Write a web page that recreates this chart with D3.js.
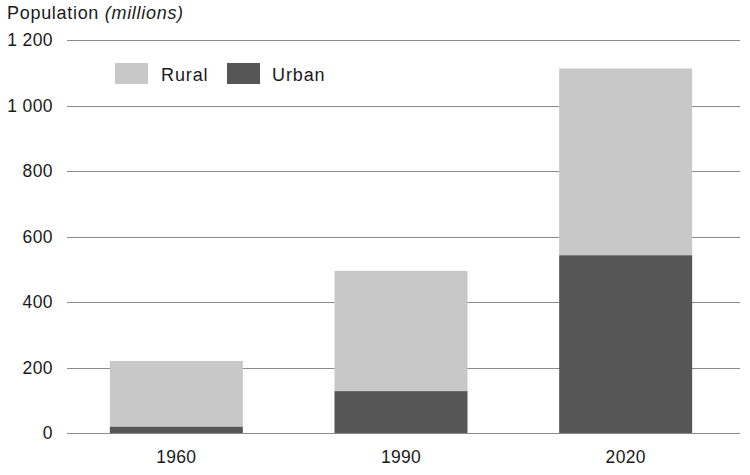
<!DOCTYPE html>
<html><head><meta charset="utf-8">
<script src="https://cdn.jsdelivr.net/npm/d3@7"></script>
<style>body{margin:0;background:#fff}svg{display:block}text{font-family:"Liberation Sans",Arial,sans-serif;fill:#1a1a1a}</style>
</head><body><svg id="c" width="750" height="475"></svg>
<script>
const years = ["1960", "1990", "2020"];
const urban = [20, 128, 543];
const rural = [200, 367, 570];
const yTicks = [0, 200, 400, 600, 800, 1000, 1200];
const seriesNames = ["Rural", "Urban"];

const svg = d3.select("#c");
const x = d3.scaleBand().domain(years).range([64, 738]).paddingInner(0.408).paddingOuter(0.204);
const y = d3.scaleLinear().domain([0, 1200]).range([433, 40]);
const colors = {Rural: "#c8c8c8", Urban: "#565656"};

// gridlines
svg.append("g").selectAll("line").data(yTicks).join("line")
  .attr("x1", 67).attr("x2", 740)
  .attr("y1", d => Math.round(y(d)) + 0.5).attr("y2", d => Math.round(y(d)) + 0.5)
  .attr("stroke", "#8a8a8a").attr("stroke-width", 1);

// y labels
svg.append("g").selectAll("text").data(yTicks).join("text")
  .attr("x", 53).attr("y", d => y(d) + 6)
  .attr("text-anchor", "end").attr("font-size", 17.5).attr("letter-spacing", 0.4)
  .text(d => d >= 1000 ? Math.floor(d / 1000) + " " + String(d % 1000).padStart(3, "0") : String(d));

// bars
const data = years.map((yr, i) => ({year: yr, urban: urban[i], rural: rural[i]}));
const stack = d3.stack().keys(["urban", "rural"])(data);
svg.append("g").selectAll("g").data(stack).join("g")
  .attr("fill", d => d.key === "urban" ? colors.Urban : colors.Rural)
  .selectAll("rect").data(d => d).join("rect")
  .attr("x", d => x(d.data.year))
  .attr("width", x.bandwidth())
  .attr("y", d => y(d[1]))
  .attr("height", d => y(d[0]) - y(d[1]));

// x labels
svg.append("g").selectAll("text").data(years).join("text")
  .attr("x", d => x(d) + x.bandwidth() / 2).attr("y", 463)
  .attr("text-anchor", "middle").attr("font-size", 17.5).attr("letter-spacing", 0.3).text(d => d);

// title
const t = svg.append("text").attr("x", 7).attr("y", 19).attr("font-size", 18).attr("letter-spacing", 0.7);
t.append("tspan").text("Population ");
t.append("tspan").attr("font-style", "italic").text("(millions)");

// legend
const legX = [115, 227];
const leg = svg.append("g").selectAll("g").data(seriesNames).join("g")
  .attr("transform", (d, i) => `translate(${legX[i]},63)`);
leg.append("rect").attr("width", 33).attr("height", 21).attr("fill", d => colors[d]);
leg.append("text").attr("x", (d, i) => i === 0 ? 46 : 45).attr("y", 18).attr("font-size", 18).attr("letter-spacing", 0.9).text(d => d);
</script></body></html>
